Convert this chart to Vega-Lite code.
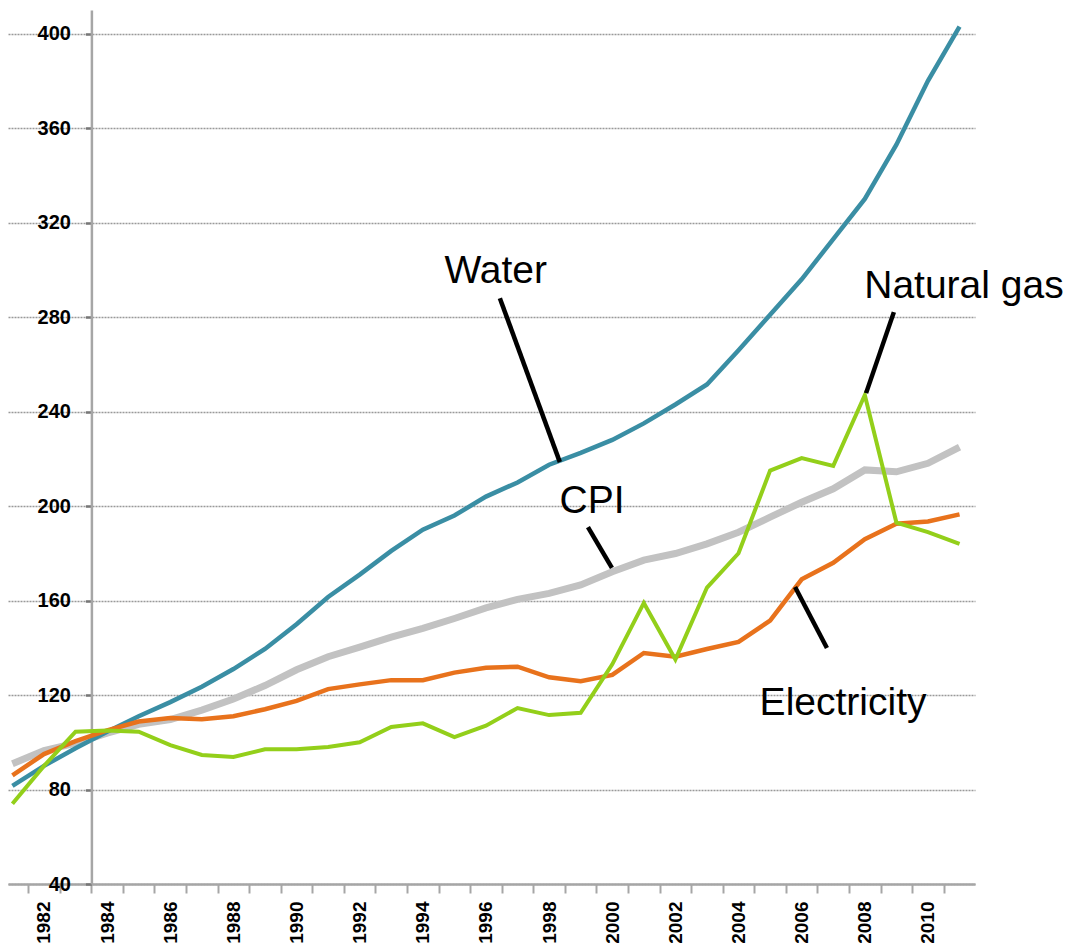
{
  "$schema": "https://vega.github.io/schema/vega-lite/v6.json",
  "width": 967,
  "height": 874,
  "autosize": {"type": "none"},
  "padding": {"left": 8, "top": 10, "right": 103, "bottom": 65},
  "background": "white",
  "config": {"view": {"stroke": null}, "font": "Liberation Sans"},
  "datasets": {
    "series": [
      {"s":"CPI","year":1981,"value":90.9},{"s":"CPI","year":1982,"value":96.5},{"s":"CPI","year":1983,"value":99.6},{"s":"CPI","year":1984,"value":103.9},{"s":"CPI","year":1985,"value":107.6},{"s":"CPI","year":1986,"value":109.6},{"s":"CPI","year":1987,"value":113.6},{"s":"CPI","year":1988,"value":118.3},{"s":"CPI","year":1989,"value":124.0},{"s":"CPI","year":1990,"value":130.7},{"s":"CPI","year":1991,"value":136.2},{"s":"CPI","year":1992,"value":140.3},{"s":"CPI","year":1993,"value":144.5},{"s":"CPI","year":1994,"value":148.2},{"s":"CPI","year":1995,"value":152.4},{"s":"CPI","year":1996,"value":156.9},{"s":"CPI","year":1997,"value":160.5},{"s":"CPI","year":1998,"value":163.0},{"s":"CPI","year":1999,"value":166.6},{"s":"CPI","year":2000,"value":172.2},{"s":"CPI","year":2001,"value":177.1},{"s":"CPI","year":2002,"value":179.9},{"s":"CPI","year":2003,"value":184.0},{"s":"CPI","year":2004,"value":188.9},{"s":"CPI","year":2005,"value":195.3},{"s":"CPI","year":2006,"value":201.6},{"s":"CPI","year":2007,"value":207.3},{"s":"CPI","year":2008,"value":215.3},{"s":"CPI","year":2009,"value":214.5},{"s":"CPI","year":2010,"value":218.1},{"s":"CPI","year":2011,"value":224.9},
      {"s":"Water","year":1981,"value":81.5},{"s":"Water","year":1982,"value":90},{"s":"Water","year":1983,"value":97.5},{"s":"Water","year":1984,"value":104.5},{"s":"Water","year":1985,"value":111},{"s":"Water","year":1986,"value":117},{"s":"Water","year":1987,"value":123.5},{"s":"Water","year":1988,"value":131},{"s":"Water","year":1989,"value":139.5},{"s":"Water","year":1990,"value":150},{"s":"Water","year":1991,"value":161.5},{"s":"Water","year":1992,"value":171},{"s":"Water","year":1993,"value":181},{"s":"Water","year":1994,"value":190},{"s":"Water","year":1995,"value":196},{"s":"Water","year":1996,"value":204},{"s":"Water","year":1997,"value":210},{"s":"Water","year":1998,"value":217.5},{"s":"Water","year":1999,"value":222.5},{"s":"Water","year":2000,"value":228},{"s":"Water","year":2001,"value":235},{"s":"Water","year":2002,"value":243},{"s":"Water","year":2003,"value":251.5},{"s":"Water","year":2004,"value":266},{"s":"Water","year":2005,"value":281},{"s":"Water","year":2006,"value":296},{"s":"Water","year":2007,"value":313},{"s":"Water","year":2008,"value":330},{"s":"Water","year":2009,"value":353},{"s":"Water","year":2010,"value":380},{"s":"Water","year":2011,"value":403},
      {"s":"Electricity","year":1981,"value":86},{"s":"Electricity","year":1982,"value":95},{"s":"Electricity","year":1983,"value":100.5},{"s":"Electricity","year":1984,"value":105},{"s":"Electricity","year":1985,"value":108.8},{"s":"Electricity","year":1986,"value":110.3},{"s":"Electricity","year":1987,"value":109.7},{"s":"Electricity","year":1988,"value":111},{"s":"Electricity","year":1989,"value":114},{"s":"Electricity","year":1990,"value":117.5},{"s":"Electricity","year":1991,"value":122.5},{"s":"Electricity","year":1992,"value":124.5},{"s":"Electricity","year":1993,"value":126.3},{"s":"Electricity","year":1994,"value":126.3},{"s":"Electricity","year":1995,"value":129.5},{"s":"Electricity","year":1996,"value":131.5},{"s":"Electricity","year":1997,"value":132},{"s":"Electricity","year":1998,"value":127.5},{"s":"Electricity","year":1999,"value":125.8},{"s":"Electricity","year":2000,"value":128.5},{"s":"Electricity","year":2001,"value":137.8},{"s":"Electricity","year":2002,"value":136.2},{"s":"Electricity","year":2003,"value":139.5},{"s":"Electricity","year":2004,"value":142.5},{"s":"Electricity","year":2005,"value":151.5},{"s":"Electricity","year":2006,"value":169},{"s":"Electricity","year":2007,"value":176},{"s":"Electricity","year":2008,"value":186},{"s":"Electricity","year":2009,"value":192.5},{"s":"Electricity","year":2010,"value":193.5},{"s":"Electricity","year":2011,"value":196.5},
      {"s":"Natural gas","year":1981,"value":74},{"s":"Natural gas","year":1982,"value":90},{"s":"Natural gas","year":1983,"value":104.5},{"s":"Natural gas","year":1984,"value":105},{"s":"Natural gas","year":1985,"value":104.5},{"s":"Natural gas","year":1986,"value":98.8},{"s":"Natural gas","year":1987,"value":94.6},{"s":"Natural gas","year":1988,"value":93.8},{"s":"Natural gas","year":1989,"value":97},{"s":"Natural gas","year":1990,"value":97},{"s":"Natural gas","year":1991,"value":98},{"s":"Natural gas","year":1992,"value":100},{"s":"Natural gas","year":1993,"value":106.5},{"s":"Natural gas","year":1994,"value":108},{"s":"Natural gas","year":1995,"value":102.2},{"s":"Natural gas","year":1996,"value":107},{"s":"Natural gas","year":1997,"value":114.5},{"s":"Natural gas","year":1998,"value":111.5},{"s":"Natural gas","year":1999,"value":112.5},{"s":"Natural gas","year":2000,"value":133},{"s":"Natural gas","year":2001,"value":159},{"s":"Natural gas","year":2002,"value":135},{"s":"Natural gas","year":2003,"value":165.5},{"s":"Natural gas","year":2004,"value":180},{"s":"Natural gas","year":2005,"value":215},{"s":"Natural gas","year":2006,"value":220.3},{"s":"Natural gas","year":2007,"value":217},{"s":"Natural gas","year":2008,"value":247},{"s":"Natural gas","year":2009,"value":193},{"s":"Natural gas","year":2010,"value":189},{"s":"Natural gas","year":2011,"value":184}
    ],
    "leaders": [
      {"label":"Water","year":1996.44,"value":288.0,"year2":1998.34,"value2":218.6},
      {"label":"CPI","year":1999.23,"value":191.1,"year2":1999.99,"value2":173.8},
      {"label":"Electricity","year":2005.79,"value":165.7,"year2":2006.8,"value2":139.9},
      {"label":"Natural gas","year":2008.92,"value":282.1,"year2":2008.04,"value2":247.8}
    ],
    "labels": [
      {"label":"Water","year":1996.31,"value":294.4},
      {"label":"CPI","year":1999.36,"value":197.0},
      {"label":"Electricity","year":2007.31,"value":111.5},
      {"label":"Natural gas","year":2011.14,"value":288.0}
    ]
  },
  "data": {"name": "series"},
  "encoding": {
    "x": {
      "field": "year", "type": "quantitative",
      "scale": {"domain": [1980.86, 2011.49], "nice": false, "zero": false},
      "axis": {
        "title": null,
        "values": [1981.5,1982.5,1983.5,1984.5,1985.5,1986.5,1987.5,1988.5,1989.5,1990.5,1991.5,1992.5,1993.5,1994.5,1995.5,1996.5,1997.5,1998.5,1999.5,2000.5,2001.5,2002.5,2003.5,2004.5,2005.5,2006.5,2007.5,2008.5,2009.5,2010.5,2011.5],
        "labelExpr": "(datum.value - 0.5) % 2 == 0 ? '' + (datum.value - 0.5) : ''",
        "labelAngle": 270,
        "labelAlign": "right",
        "labelBaseline": "middle",
        "labelOffset": -15.8,
        "labelFlush": false,
        "labelOverlap": false,
        "labelBound": false,
        "tickSize": 9,
        "tickWidth": 2,
        "tickColor": "#a6a6a6",
        "domainColor": "#a6a6a6",
        "domainWidth": 2.5,
        "labelPadding": 8,
        "labelFont": "Liberation Sans",
        "labelFontWeight": "bold",
        "labelFontSize": 19,
        "labelColor": "#000000",
        "grid": false
      }
    },
    "y": {
      "field": "value", "type": "quantitative",
      "scale": {"domain": [40, 410], "nice": false, "zero": false},
      "axis": {
        "title": null,
        "values": [40,80,120,160,200,240,280,320,360,400],
        "offset": -83.4,
        "grid": true,
        "gridColor": "#999999",
        "gridDash": [2, 1],
        "gridWidth": 1.5,
        "tickSize": 6,
        "tickWidth": 2.5,
        "tickColor": "#777777",
        "domainColor": "#a6a6a6",
        "domainWidth": 2.5,
        "labelPadding": 15,
        "labelFont": "Liberation Sans",
        "labelFontWeight": "bold",
        "labelFontSize": 20,
        "labelColor": "#000000",
        "labelOverlap": false,
        "labelFlush": false
      }
    }
  },
  "layer": [
    {"transform": [{"filter": "datum.s == 'CPI'"}], "mark": {"type": "line", "color": "#c2c2c2", "strokeWidth": 7}},
    {"transform": [{"filter": "datum.s == 'Water'"}], "mark": {"type": "line", "color": "#3a8ea4", "strokeWidth": 4.5}},
    {"transform": [{"filter": "datum.s == 'Electricity'"}], "mark": {"type": "line", "color": "#e8721c", "strokeWidth": 4.5}},
    {"transform": [{"filter": "datum.s == 'Natural gas'"}], "mark": {"type": "line", "color": "#93cf1a", "strokeWidth": 4}},
    {
      "data": {"name": "leaders"},
      "mark": {"type": "rule", "color": "#000000", "strokeWidth": 4.5},
      "encoding": {"x2": {"field": "year2"}, "y2": {"field": "value2"}}
    },
    {
      "data": {"name": "labels"},
      "mark": {"type": "text", "font": "Liberation Sans", "fontSize": 39, "align": "center", "baseline": "alphabetic", "color": "#000000"},
      "encoding": {"text": {"field": "label"}}
    }
  ]
}
